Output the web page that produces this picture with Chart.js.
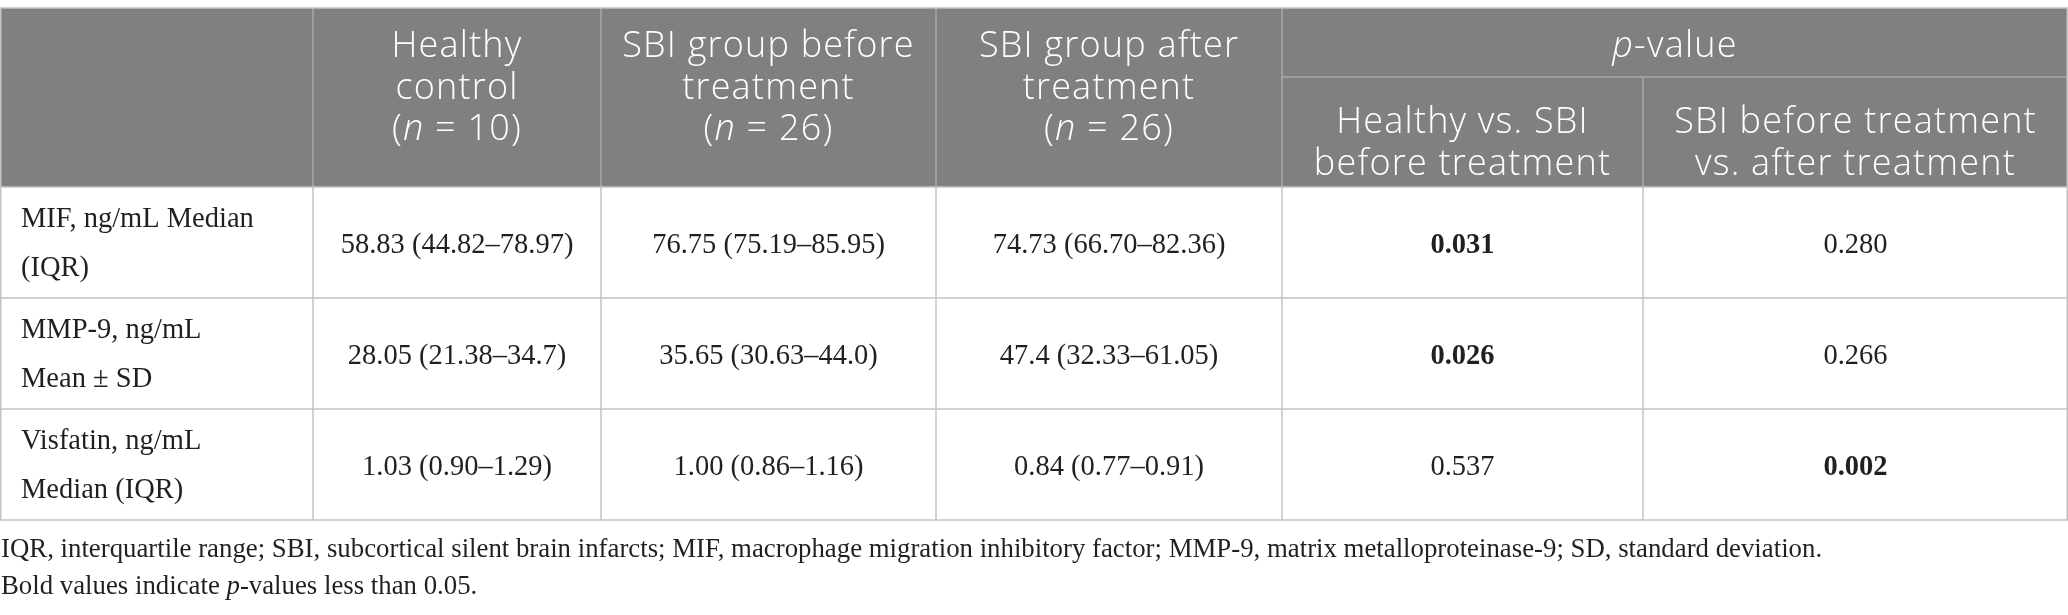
<!DOCTYPE html>
<html>
<head>
<meta charset="utf-8">
<script src="https://cdn.jsdelivr.net/npm/chart.js@4.4.1/dist/chart.umd.min.js"></script>
<style>
  html, body { margin: 0; padding: 0; background: #ffffff; }
  #wrap { width: 2068px; height: 615px; }
</style>
</head>
<body>
<div id="wrap"><canvas id="c" width="2068" height="615"></canvas></div>
<script>
// ---------------- DATA ----------------
const groupHeaderLines = [
  ["Healthy", "control"],
  ["SBI group before", "treatment"],
  ["SBI group after", "treatment"]
];
const groupN = [10, 26, 26];
const pGroupTitle = "p-value";
const pHeaderLines = [
  ["Healthy vs. SBI", "before treatment"],
  ["SBI before treatment", "vs. after treatment"]
];
const markerLabels = [
  ["MIF, ng/mL Median", "(IQR)"],
  ["MMP-9, ng/mL", "Mean ± SD"],
  ["Visfatin, ng/mL", "Median (IQR)"]
];
const healthyControl = ["58.83 (44.82–78.97)", "28.05 (21.38–34.7)", "1.03 (0.90–1.29)"];
const sbiBefore      = ["76.75 (75.19–85.95)", "35.65 (30.63–44.0)", "1.00 (0.86–1.16)"];
const sbiAfter       = ["74.73 (66.70–82.36)", "47.4 (32.33–61.05)", "0.84 (0.77–0.91)"];
const pHealthyVsSbiBefore = [0.031, 0.026, 0.537];
const pBeforeVsAfter      = [0.280, 0.266, 0.002];
const alpha = 0.05;
const footnoteLine1 = "IQR, interquartile range; SBI, subcortical silent brain infarcts; MIF, macrophage migration inhibitory factor; MMP-9, matrix metalloproteinase-9; SD, standard deviation.";
const footnoteLine2 = [["Bold values indicate ", 0], ["p", 1], ["-values less than 0.05.", 0]];

// ---------------- LAYOUT / STYLE ----------------
const W = 2068, H = 615;
const colEdges = [0, 313, 601, 936, 1282, 1643, 2068];
const tableTop = 8, headerSplit = 77, headerBottom = 187, rowHeight = 111;
const headFill = "#808080", headLine = "#a8a8a8", gridLine = "#c3c3c3";
const headFont = "'Open Sans', 'Noto Sans', sans-serif";
const bodyFont = "'Liberation Serif', 'Times New Roman', serif";
const headSize = 36, headSpacing = "1.2px", bodySize = 28.5, footSize = 26.8;
const textColor = "#231f20";

function drawRuns(ctx, runs, x, y, size, family, weight, align, spacing) {
  ctx.letterSpacing = spacing || "0px";
  const fonts = runs.map(r => (r[1] ? "italic " : "") + (weight || "normal") + " " + size + "px " + family);
  let total = 0;
  const widths = runs.map((r, i) => { ctx.font = fonts[i]; const w = ctx.measureText(r[0]).width; total += w; return w; });
  let sx = align === "left" ? x : x - total / 2;
  ctx.textAlign = "left";
  runs.forEach((r, i) => { ctx.font = fonts[i]; ctx.fillText(r[0], sx, y); sx += widths[i]; });
  ctx.letterSpacing = "0px";
}

const tablePlugin = {
  id: "tablePlugin",
  afterDraw(chart) {
    const ctx = chart.ctx;
    const xs = chart.scales.x, ys = chart.scales.y;
    const px = v => xs.getPixelForValue(v);
    const py = v => ys.getPixelForValue(v);
    const nRows = markerLabels.length;
    const rowTop = i => headerBottom + i * rowHeight;
    const tableBottom = rowTop(nRows);
    ctx.save();
    ctx.textBaseline = "alphabetic";

    // header background
    ctx.fillStyle = headFill;
    ctx.fillRect(px(colEdges[0]), py(tableTop), px(colEdges[6]) - px(colEdges[0]), py(headerBottom) - py(tableTop));

    const line = (x1, y1, x2, y2, c, w) => {
      ctx.strokeStyle = c; ctx.lineWidth = w || 1.5;
      ctx.beginPath(); ctx.moveTo(px(x1), py(y1)); ctx.lineTo(px(x2), py(y2)); ctx.stroke();
    };
    // header inner lines
    for (let k = 1; k <= 4; k++) line(colEdges[k], tableTop, colEdges[k], headerBottom, headLine);
    line(colEdges[5], headerSplit, colEdges[5], headerBottom, headLine);
    line(colEdges[4], headerSplit, colEdges[6], headerSplit, headLine);
    // outer border
    line(colEdges[0], tableTop, colEdges[6], tableTop, gridLine);
    line(colEdges[0] + 0.75, tableTop, colEdges[0] + 0.75, tableBottom, gridLine);
    line(colEdges[6] - 0.75, tableTop, colEdges[6] - 0.75, tableBottom, gridLine);
    // body grid
    for (let i = 0; i <= nRows; i++) line(colEdges[0], rowTop(i), colEdges[6], rowTop(i), gridLine);
    for (let k = 1; k <= 5; k++) line(colEdges[k], headerBottom, colEdges[k], tableBottom, gridLine);

    // header text
    ctx.fillStyle = "#ffffff";
    const mid = k => (px(colEdges[k]) + px(colEdges[k + 1])) / 2;
    const hb = [tableTop + 49, tableTop + 91, tableTop + 132];
    groupHeaderLines.forEach((lines, g) => {
      const cx = mid(g + 1);
      lines.forEach((t, j) => drawRuns(ctx, [[t, 0]], cx, py(hb[j]), headSize, headFont, "300", "center", headSpacing));
      drawRuns(ctx, [["(", 0], ["n", 1], [" = " + groupN[g] + ")", 0]], cx, py(hb[2]), headSize, headFont, "300", "center", headSpacing);
    });
    const pcx = (px(colEdges[4]) + px(colEdges[6])) / 2;
    drawRuns(ctx, [[pGroupTitle.charAt(0), 1], [pGroupTitle.slice(1), 0]], pcx, py(tableTop + 49), headSize, headFont, "300", "center", headSpacing);
    pHeaderLines.forEach((lines, g) => {
      const cx = mid(g + 4);
      lines.forEach((t, j) => drawRuns(ctx, [[t, 0]], cx, py(headerSplit + 56 + j * 42), headSize, headFont, "300", "center", headSpacing));
    });

    // body text
    ctx.fillStyle = textColor;
    const groups = [healthyControl, sbiBefore, sbiAfter];
    const pcols = [pHealthyVsSbiBefore, pBeforeVsAfter];
    for (let i = 0; i < nRows; i++) {
      const top = rowTop(i);
      markerLabels[i].forEach((t, j) => drawRuns(ctx, [[t, 0]], px(colEdges[0] + 21), py(top + 40 + j * 49), bodySize, bodyFont, "normal", "left"));
      groups.forEach((arr, g) => drawRuns(ctx, [[arr[i], 0]], mid(g + 1), py(top + 66), bodySize, bodyFont, "normal"));
      pcols.forEach((arr, g) => {
        const v = arr[i];
        drawRuns(ctx, [[v.toFixed(3), 0]], mid(g + 4), py(top + 66), bodySize, bodyFont, v < alpha ? "bold" : "normal");
      });
    }
    // footnotes
    drawRuns(ctx, [[footnoteLine1, 0]], px(1), py(tableBottom + 37), footSize, bodyFont, "normal", "left");
    drawRuns(ctx, footnoteLine2, px(1), py(tableBottom + 74), footSize, bodyFont, "normal", "left");
    ctx.restore();
  }
};

new Chart(document.getElementById("c"), {
  type: "scatter",
  data: { datasets: [{ data: [], pointRadius: 0 }] },
  options: {
    responsive: false,
    animation: false,
    devicePixelRatio: 1,
    layout: { padding: 0 },
    plugins: { legend: { display: false }, tooltip: { enabled: false } },
    scales: {
      x: { type: "linear", min: 0, max: W, display: false },
      y: { type: "linear", min: 0, max: H, reverse: true, display: false }
    }
  },
  plugins: [tablePlugin]
});
</script>
</body>
</html>
